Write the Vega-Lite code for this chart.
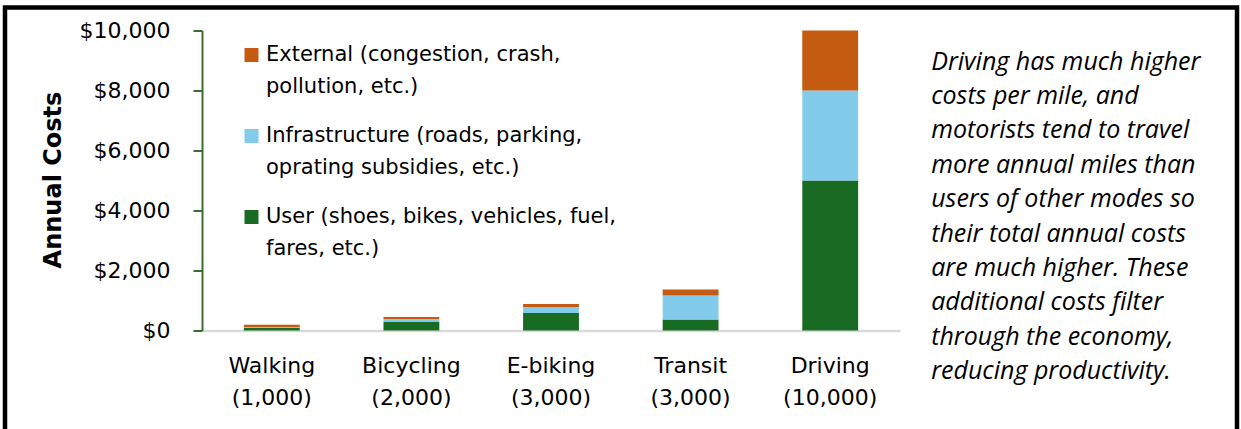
{
  "$schema": "https://vega.github.io/schema/vega-lite/v6.json",
  "width": 1232,
  "height": 440,
  "autosize": {"type": "none"},
  "padding": {"left": 5, "top": 7.5, "right": 4, "bottom": 0},
  "background": "white",
  "config": {
    "view": {"stroke": "black", "strokeWidth": 4.5},
    "font": "DejaVu Sans",
    "style": {"guide-label": {"lineHeight": 32}}
  },
  "data": {
    "values": [
      {"mode": "Walking (1,000)", "category": "User", "value": 80},
      {"mode": "Walking (1,000)", "category": "Infrastructure", "value": 40},
      {"mode": "Walking (1,000)", "category": "External", "value": 70},
      {"mode": "Bicycling (2,000)", "category": "User", "value": 280},
      {"mode": "Bicycling (2,000)", "category": "Infrastructure", "value": 100},
      {"mode": "Bicycling (2,000)", "category": "External", "value": 70},
      {"mode": "E-biking (3,000)", "category": "User", "value": 580},
      {"mode": "E-biking (3,000)", "category": "Infrastructure", "value": 200},
      {"mode": "E-biking (3,000)", "category": "External", "value": 100},
      {"mode": "Transit (3,000)", "category": "User", "value": 370},
      {"mode": "Transit (3,000)", "category": "Infrastructure", "value": 800},
      {"mode": "Transit (3,000)", "category": "External", "value": 200},
      {"mode": "Driving (10,000)", "category": "User", "value": 5000},
      {"mode": "Driving (10,000)", "category": "Infrastructure", "value": 3000},
      {"mode": "Driving (10,000)", "category": "External", "value": 2000}
    ]
  },
  "layer": [
    {
      "mark": {"type": "bar"},
      "encoding": {
        "x": {
          "field": "mode",
          "type": "nominal",
          "sort": ["Walking (1,000)", "Bicycling (2,000)", "E-biking (3,000)", "Transit (3,000)", "Driving (10,000)"],
          "scale": {"range": [197, 895], "paddingInner": 0.6, "paddingOuter": 0.3},
          "axis": {
            "orient": "bottom",
            "offset": -117,
            "title": null,
            "labelAngle": 0,
            "labelExpr": "[split(datum.label, ' (')[0], '(' + split(datum.label, ' (')[1]]",
            "domainColor": "#d9d9d9",
            "domainWidth": 2.5,
            "ticks": false,
            "tickSize": 0,
            "labelPadding": 25,
            "labelFont": "DejaVu Sans",
            "labelFontSize": 22,
            "labelColor": "black",
            "labelLineHeight": 32,
            "labelLimit": 300
          }
        },
        "y": {
          "field": "value",
          "type": "quantitative",
          "stack": "zero",
          "scale": {"domain": [0, 10000], "range": [323, 23], "nice": false},
          "axis": {
            "orient": "left",
            "offset": -197,
            "values": [0, 2000, 4000, 6000, 8000, 10000],
            "format": "$,.0f",
            "grid": false,
            "domainColor": "#3c6e33",
            "domainWidth": 2,
            "tickColor": "#3c6e33",
            "tickWidth": 2,
            "tickSize": 9,
            "labelPadding": 23,
            "labelFont": "DejaVu Sans",
            "labelFontSize": 22,
            "labelColor": "black",
            "title": "Annual Costs",
            "titleFont": "DejaVu Sans",
            "titleFontSize": 24,
            "titleFontWeight": "bold",
            "titleColor": "black",
            "titleAngle": -90,
            "titleX": -149,
            "titleY": 172,
            "titleAlign": "center",
            "titleBaseline": "middle"
          }
        },
        "color": {
          "field": "category",
          "type": "nominal",
          "scale": {
            "domain": ["External", "Infrastructure", "User"],
            "range": ["#c55a11", "#83cbeb", "#196b24"]
          },
          "legend": {
            "orient": "none",
            "legendX": 236,
            "legendY": 37,
            "title": null,
            "padding": 0,
            "symbolType": "square",
            "symbolSize": 196,
            "symbolStrokeWidth": 0,
            "symbolOpacity": 1,
            "labelFont": "DejaVu Sans",
            "labelFontSize": 21,
            "labelColor": "black",
            "labelLimit": 500,
            "labelOffset": 4,
            "labelBaseline": "middle",
            "rowPadding": 27,
            "labelExpr": "datum.label == 'External' ? ['External (congestion, crash,', 'pollution, etc.)'] : datum.label == 'Infrastructure' ? ['Infrastructure (roads, parking,', 'oprating subsidies, etc.)'] : ['User (shoes, bikes, vehicles, fuel,', 'fares, etc.)']"
          }
        },
        "order": {"field": "category", "sort": "descending"}
      }
    },
    {
      "data": {"values": [{}]},
      "mark": {
        "type": "text",
        "text": [
          "Driving has much higher",
          "costs per mile, and",
          "motorists tend to travel",
          "more annual miles than",
          "users of other modes so",
          "their total annual costs",
          "are much higher. These",
          "additional costs filter",
          "through the economy,",
          "reducing productivity."
        ],
        "font": "Open Sans",
        "fontStyle": "italic",
        "fontSize": 25,
        "color": "black",
        "align": "left",
        "baseline": "alphabetic",
        "lineHeight": 34.4,
        "dx": 101,
        "dy": 39
      },
      "encoding": {
        "x": {"datum": "Driving (10,000)"},
        "y": {"datum": 10000}
      }
    }
  ]
}
